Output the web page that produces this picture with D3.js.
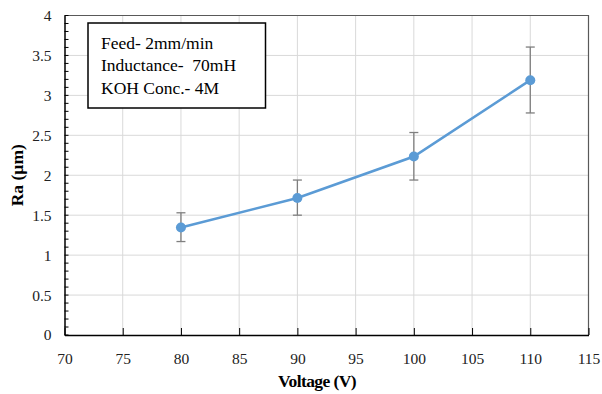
<!DOCTYPE html>
<html><head><meta charset="utf-8">
<script src="https://cdn.jsdelivr.net/npm/d3@7"></script>
<style>body{margin:0;background:#fff}svg{display:block}</style>
</head><body><div id="c"></div>
<script>
const voltage = [80, 90, 100, 110];
const ra = [1.345, 1.715, 2.234, 3.19];
const errLow = [1.17, 1.50, 1.94, 2.78];
const errHigh = [1.53, 1.94, 2.535, 3.605];
const xTicks = [70, 75, 80, 85, 90, 95, 100, 105, 110, 115];
const yTicks = [0, 0.5, 1, 1.5, 2, 2.5, 3, 3.5, 4];
const legendLines = ["Feed- 2mm/min", "Inductance-  70mH", "KOH Conc.- 4M"];

const W = 602, H = 394;
const m = {l: 64.5, r: 588.5, t: 15.5, b: 335};
const svg = d3.select("#c").append("svg").attr("width", W).attr("height", H);
const x = d3.scaleLinear().domain([70, 115]).range([m.l, m.r]);
const y = d3.scaleLinear().domain([0, 4]).range([m.b, m.t]);
const font = "'Liberation Serif','Times New Roman',serif";

// grid
svg.append("g").selectAll("line").data(xTicks.slice(1, -1)).join("line")
  .attr("x1", d => x(d)).attr("x2", d => x(d)).attr("y1", m.t).attr("y2", m.b)
  .attr("stroke", "#d9d9d9").attr("stroke-width", 1);
svg.append("g").selectAll("line").data(yTicks.slice(1, -1)).join("line")
  .attr("x1", m.l).attr("x2", m.r).attr("y1", d => y(d)).attr("y2", d => y(d))
  .attr("stroke", "#d9d9d9").attr("stroke-width", 1);

// frame top/right
svg.append("path").attr("d", `M${m.l},${m.t}H${m.r}V${m.b}`)
  .attr("fill", "none").attr("stroke", "#595959").attr("stroke-width", 1.2);

// x axis
const xa = svg.append("g").attr("transform", `translate(0,${m.b})`)
  .call(d3.axisBottom(x).tickValues(xTicks).tickSizeInner(-7).tickSizeOuter(0).tickPadding(18));
xa.select(".domain").attr("stroke", "#000").attr("stroke-width", 1.5);
xa.selectAll(".tick line").attr("stroke", "#000");
xa.selectAll("text").attr("font-family", font).attr("font-size", 15.5).attr("fill", "#222");

// y axis minor ticks
const minor = d3.range(0, 41).map(i => i / 10);
svg.append("g").selectAll("line").data(minor).join("line")
  .attr("x1", m.l).attr("x2", m.l + 4).attr("y1", d => y(d)).attr("y2", d => y(d))
  .attr("stroke", "#000").attr("stroke-width", 1);
const ya = svg.append("g").attr("transform", `translate(${m.l},0)`)
  .call(d3.axisLeft(y).tickValues(yTicks).tickFormat(d3.format("")).tickSize(0).tickPadding(13));
ya.select(".domain").attr("stroke", "#000").attr("stroke-width", 1.5);
ya.selectAll("text").attr("font-family", font).attr("font-size", 15.5).attr("fill", "#222");

// error bars
const eb = svg.append("g").attr("stroke", "#7f7f7f").attr("stroke-width", 1.3);
voltage.forEach((v, i) => {
  eb.append("line").attr("x1", x(v)).attr("x2", x(v)).attr("y1", y(errLow[i])).attr("y2", y(errHigh[i]));
  eb.append("line").attr("x1", x(v) - 4.5).attr("x2", x(v) + 4.5).attr("y1", y(errLow[i])).attr("y2", y(errLow[i]));
  eb.append("line").attr("x1", x(v) - 4.5).attr("x2", x(v) + 4.5).attr("y1", y(errHigh[i])).attr("y2", y(errHigh[i]));
});

// line
const pts = voltage.map((v, i) => [v, ra[i]]);
svg.append("path").datum(pts)
  .attr("d", d3.line().x(d => x(d[0])).y(d => y(d[1])))
  .attr("fill", "none").attr("stroke", "#5b9bd5").attr("stroke-width", 2.6);
svg.append("g").selectAll("circle").data(pts).join("circle")
  .attr("cx", d => x(d[0])).attr("cy", d => y(d[1])).attr("r", 5)
  .attr("fill", "#5b9bd5");

// legend box
svg.append("rect").attr("x", 88).attr("y", 23).attr("width", 177.5).attr("height", 85)
  .attr("fill", "#fff").attr("stroke", "#000").attr("stroke-width", 1.5);
svg.append("g").selectAll("text").data(legendLines).join("text")
  .attr("x", 101).attr("y", (d, i) => 48.5 + i * 22.5)
  .attr("font-family", font).attr("font-size", 17.5).attr("fill", "#000")
  .attr("xml:space", "preserve").style("white-space", "pre")
  .text(d => d);

// axis titles
svg.append("text").attr("x", 317).attr("y", 387).attr("text-anchor", "middle")
  .attr("font-family", font).attr("font-size", 17.5).attr("font-weight", "bold")
  .attr("letter-spacing", -0.6).text("Voltage (V)");
svg.append("text").attr("transform", `translate(23,${(m.t + m.b) / 2}) rotate(-90)`)
  .attr("text-anchor", "middle")
  .attr("font-family", font).attr("font-size", 17.5).attr("font-weight", "bold").text("Ra (µm)");
</script></body></html>
